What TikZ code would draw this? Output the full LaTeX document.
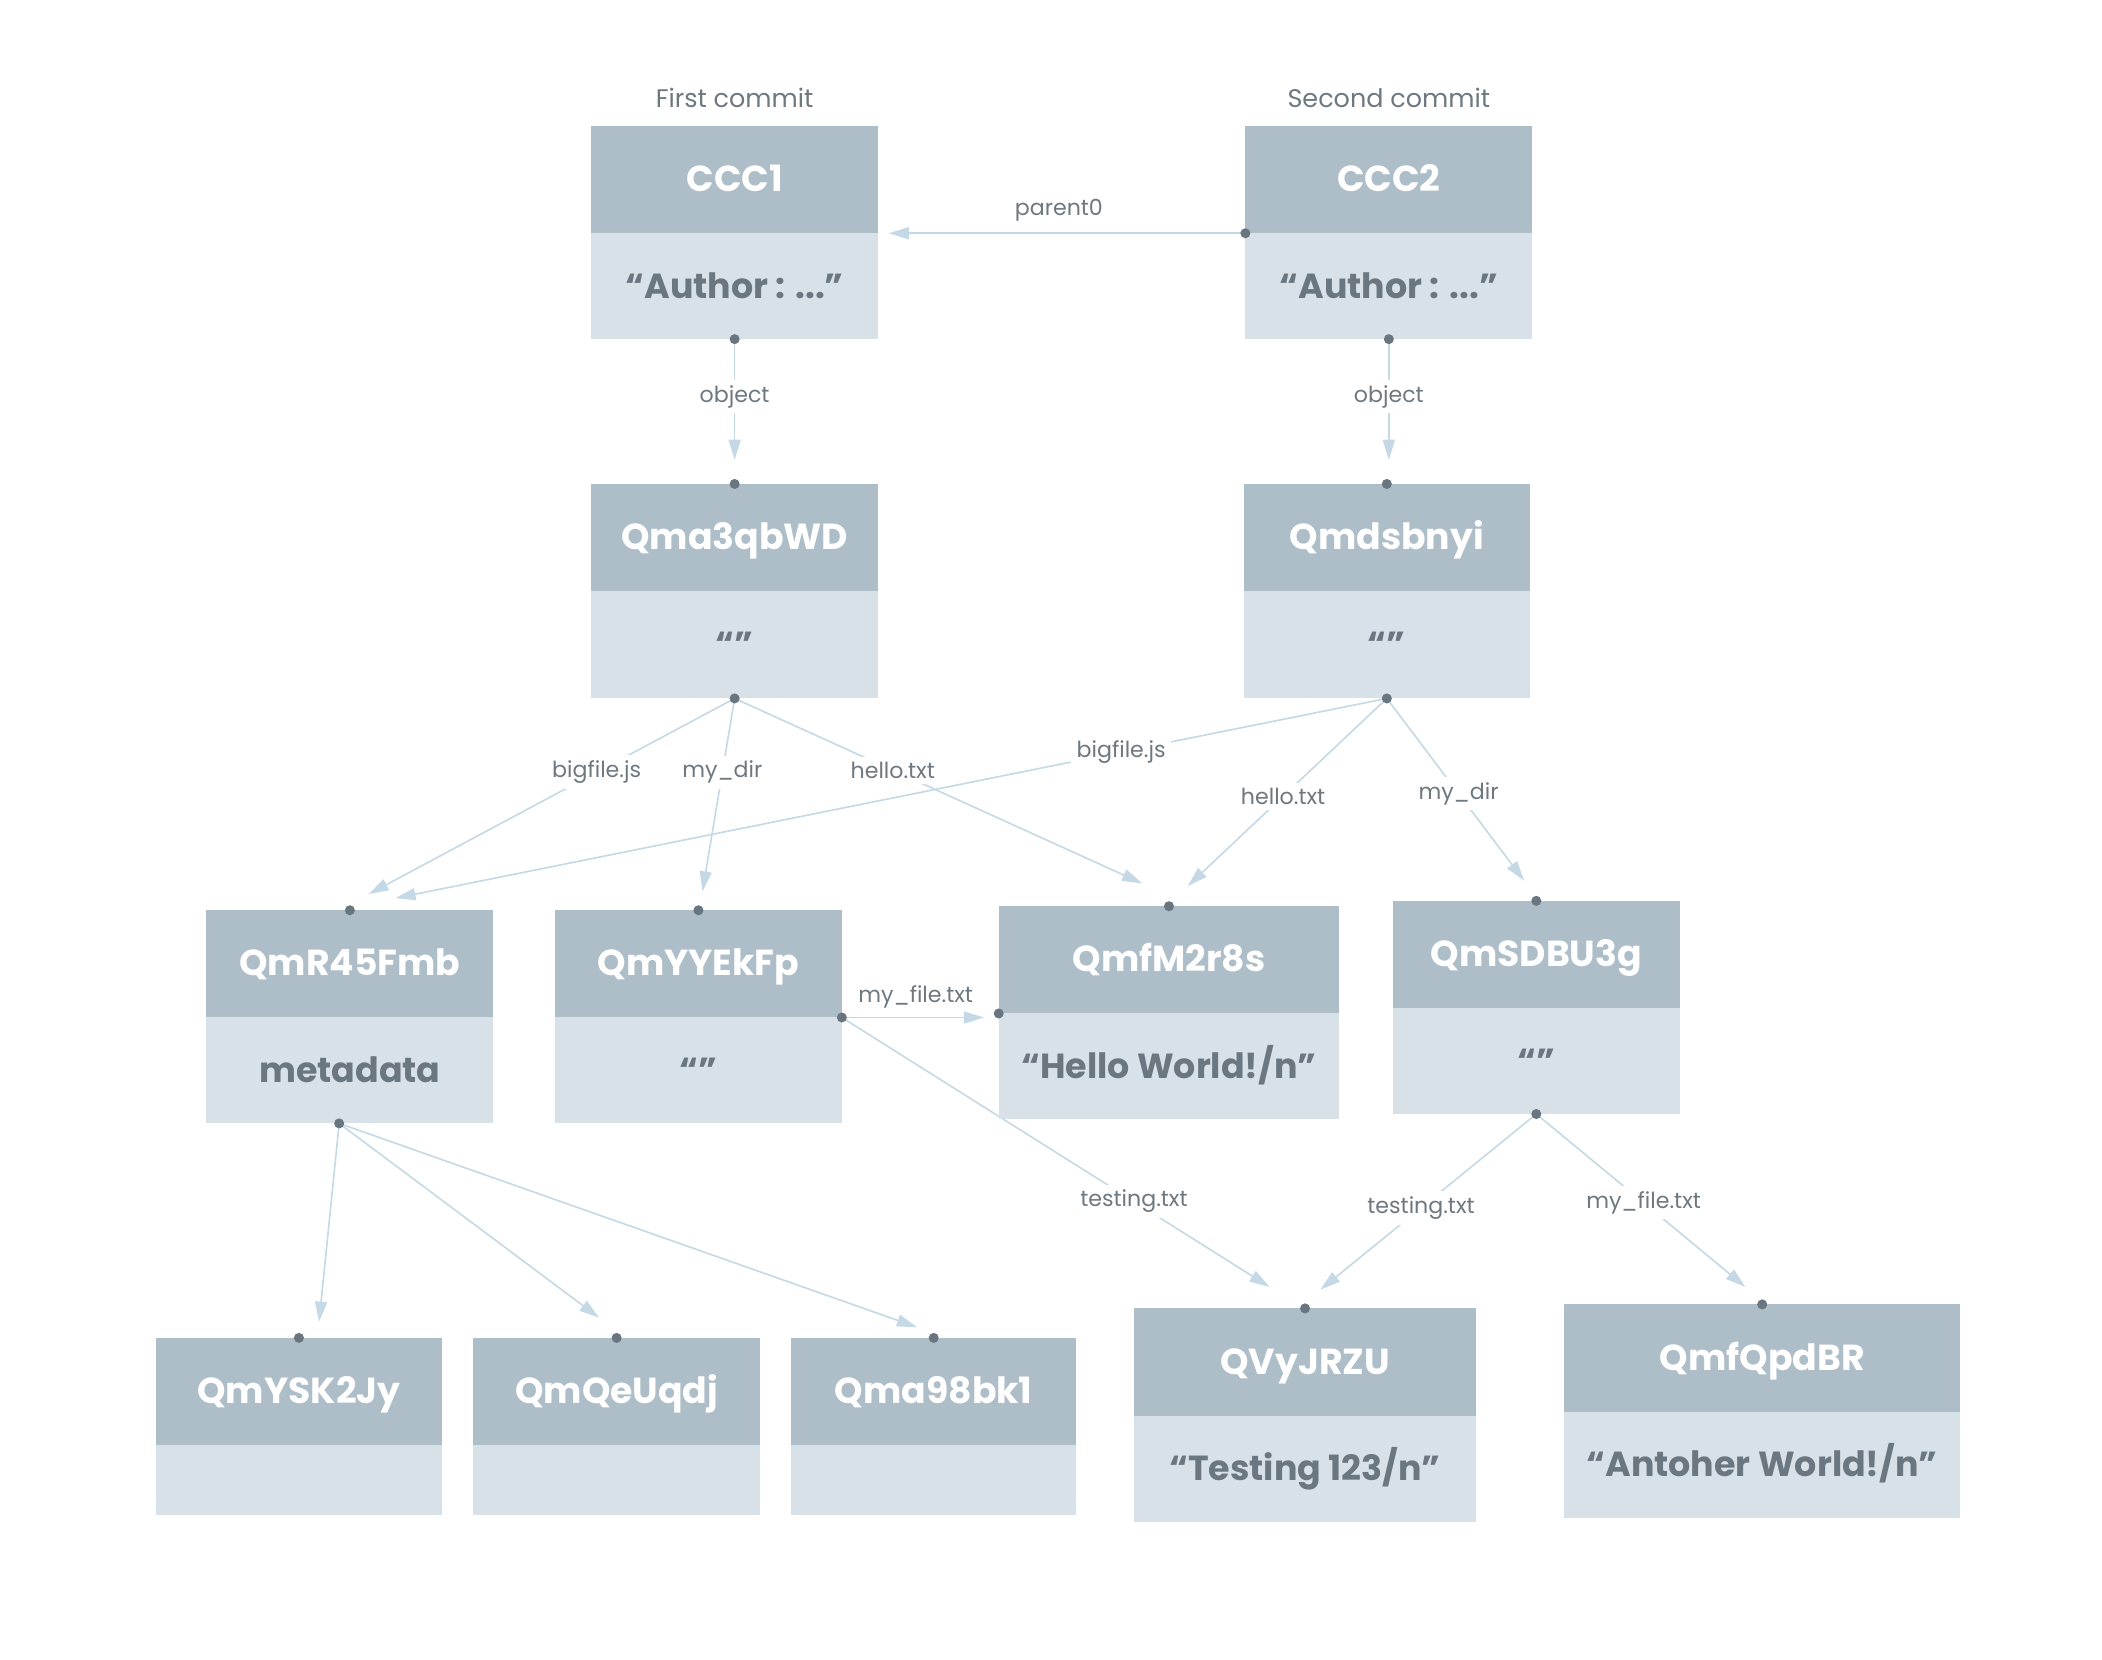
\documentclass[tikz,border=0pt]{standalone}
\usepackage{fontspec}
\setmainfont{Poppins}
\usetikzlibrary{arrows.meta}
\definecolor{hdrc}{HTML}{AEBEC9}
\definecolor{bodyc}{HTML}{D9E1E8}
\definecolor{txtc}{HTML}{6A7680}
\definecolor{lblc}{HTML}{6E7880}
\definecolor{dotc}{HTML}{69757F}
\definecolor{linec}{HTML}{C5D8E5}
\pgfdeclarelayer{bg}
\pgfsetlayers{bg,main}
\begin{document}
\begin{tikzpicture}[x=1pt,y=-1pt,
  hdr/.style={rectangle, fill=hdrc, text=white,
    font=\bfseries\fontsize{27}{31}\selectfont,
    minimum height=80pt, inner sep=0pt, outer sep=0pt,
    text height=18pt, text depth=0pt},
  bdy/.style={rectangle, fill=bodyc, text=txtc,
    font=\bfseries\fontsize{26}{30}\selectfont,
    minimum height=79pt, inner sep=0pt, outer sep=0pt,
    text height=18pt, text depth=0pt},
  bdyshort/.style={bdy, minimum height=52pt},
  lbl/.style={font=\fontsize{16.5}{19}\selectfont, text=lblc, fill=white, inner sep=4pt},
  ttl/.style={font=\fontsize{19}{22}\selectfont, text=lblc, inner sep=0pt},
  conn/.style={draw=linec, line width=1.2pt, -{Triangle[length=15pt,width=9pt]}},
  dot/.style={circle, fill=dotc, inner sep=0pt, minimum size=7.5pt}
]
\path[use as bounding box] (0,0) rectangle (1568,1238);

% commit titles
\node[ttl] (t1) at (548,73) {First commit};
\node[ttl] (t2) at (1036,73) {Second commit};

% commits
\node[hdr, minimum width=214pt] (ccc1) at (548,134) {CCC1};
\node[bdy, minimum width=214pt] (ccc1b) at (548,213.5) {“Author : ...”};
\node[hdr, minimum width=214pt] (ccc2) at (1036,134) {CCC2};
\node[bdy, minimum width=214pt] (ccc2b) at (1036,213.5) {“Author : ...”};

% root trees
\node[hdr, minimum width=214pt] (qma3) at (548,401) {Qma3qbWD};
\node[bdy, minimum width=214pt, minimum height=80pt] (qma3b) at (548,481) {“”};
\node[hdr, minimum width=213pt] (qmds) at (1034.5,401) {Qmdsbnyi};
\node[bdy, minimum width=213pt, minimum height=80pt] (qmdsb) at (1034.5,481) {“”};

% third row
\node[hdr, minimum width=214pt] (r45) at (261,719) {QmR45Fmb};
\node[bdy, minimum width=214pt] (r45b) at (261,798.5) {metadata};
\node[hdr, minimum width=214pt] (yye) at (521,719) {QmYYEkFp};
\node[bdy, minimum width=214pt] (yyeb) at (521,798.5) {“”};
\node[hdr, minimum width=254pt] (m2r) at (872,716) {QmfM2r8s};
\node[bdy, minimum width=254pt] (m2rb) at (872,795.5) {“Hello World!/n”};
\node[hdr, minimum width=214pt] (sdb) at (1146,712) {QmSDBU3g};
\node[bdy, minimum width=214pt] (sdbb) at (1146,791.5) {“”};

% leaves
\node[hdr, minimum width=214pt] (ysk) at (223,1038) {QmYSK2Jy};
\node[bdyshort, minimum width=214pt] (yskb) at (223,1104) {};
\node[hdr, minimum width=214pt] (qeu) at (460,1038) {QmQeUqdj};
\node[bdyshort, minimum width=214pt] (qeub) at (460,1104) {};
\node[hdr, minimum width=213pt] (a98) at (696.5,1038) {Qma98bk1};
\node[bdyshort, minimum width=213pt] (a98b) at (696.5,1104) {};
\node[hdr, minimum width=255pt] (vyj) at (973.5,1016) {QVyJRZU};
\node[bdy, minimum width=255pt] (vyjb) at (973.5,1095.5) {“Testing 123/n”};
\node[hdr, minimum width=295pt] (fqp) at (1314.5,1013) {QmfQpdBR};
\node[bdy, minimum width=295pt] (fqpb) at (1314.5,1092.5) {“Antoher World!/n”};

% connection points
\node[dot] (d-ccc1-s) at (ccc1b.south) {};
\node[dot] (d-ccc2-w) at (ccc2.south west) {};
\node[dot] (d-ccc2-s) at (ccc2b.south) {};
\node[dot] (d-qma3-n) at (qma3.north) {};
\node[dot] (d-qma3-s) at (qma3b.south) {};
\node[dot] (d-qmds-n) at (qmds.north) {};
\node[dot] (d-qmds-s) at (qmdsb.south) {};
\node[dot] (d-r45-n) at (r45.north) {};
\node[dot] (d-r45-s) at ([xshift=-8pt]r45b.south) {};
\node[dot] (d-yye-n) at (yye.north) {};
\node[dot] (d-yye-e) at (yyeb.north east) {};
\node[dot] (d-m2r-n) at (m2r.north) {};
\node[dot] (d-m2r-w) at (m2rb.north west) {};
\node[dot] (d-sdb-n) at (sdb.north) {};
\node[dot] (d-sdb-s) at (sdbb.south) {};
\node[dot] (d-ysk-n) at (ysk.north) {};
\node[dot] (d-qeu-n) at (qeu.north) {};
\node[dot] (d-a98-n) at (a98.north) {};
\node[dot] (d-vyj-n) at (vyj.north) {};
\node[dot] (d-fqp-n) at (fqp.north) {};

% arrow ends
\coordinate (tip-par) at ([xshift=8pt]ccc1.south east);
\coordinate (tip-obj1) at (548,343);
\coordinate (tip-obj2) at (1036,343);
\coordinate (tip-big1) at (275,667);
\coordinate (tip-dir1) at (524,665);
\coordinate (tip-hel1) at (852,659);
\coordinate (tip-big2) at (295,670);
\coordinate (tip-hel2) at (886,661);
\coordinate (tip-dir2) at (1137,657);
\coordinate (tip-fil1) at (734,759);
\coordinate (tip-tst1) at (947,960);
\coordinate (tip-tst2) at (985,962);
\coordinate (tip-fil2) at (1302,960);
\coordinate (tip-m1) at (238,986);
\coordinate (tip-m2) at (447,983);
\coordinate (tip-m3) at (684,990);

\begin{pgfonlayer}{bg}
  \draw[conn] (d-ccc2-w.center) -- (tip-par)
    node[lbl, fill=none, pos=0.523, yshift=17pt] {parent0};
  \draw[conn] (d-ccc1-s.center) -- (tip-obj1) node[lbl, pos=0.478] {object};
  \draw[conn] (d-ccc2-s.center) -- (tip-obj2) node[lbl, pos=0.478] {object};
  \draw[conn] (d-qma3-s.center) -- (tip-big1) node[lbl, pos=0.377] {bigfile.js};
  \draw[conn] (d-qma3-s.center) -- (tip-dir1) node[lbl, pos=0.382] {my\_dir};
  \draw[conn] (d-qma3-s.center) -- (tip-hel1) node[lbl, pos=0.388] {hello.txt};
  \draw[conn] (d-qmds-s.center) -- (tip-big2) node[lbl, pos=0.268] {bigfile.js};
  \draw[conn] (d-qmds-s.center) -- (tip-hel2) node[lbl, pos=0.521] {hello.txt};
  \draw[conn] (d-qmds-s.center) -- (tip-dir2) node[lbl, pos=0.522] {my\_dir};
  \draw[conn] (d-yye-e.center) -- (tip-fil1)
    node[lbl, fill=none, pos=0.519, yshift=15pt] {my\_file.txt};
  \draw[conn] (d-yye-e.center) -- (tip-tst1) node[lbl, pos=0.683] {testing.txt};
  \draw[conn] (d-sdb-s.center) -- (tip-tst2) node[lbl, pos=0.534] {testing.txt};
  \draw[conn] (d-sdb-s.center) -- (tip-fil2) node[lbl, pos=0.513] {my\_file.txt};
  \draw[conn] (d-r45-s.center) -- (tip-m1);
  \draw[conn] (d-r45-s.center) -- (tip-m2);
  \draw[conn] (d-r45-s.center) -- (tip-m3);
\end{pgfonlayer}
\end{tikzpicture}
\end{document}
